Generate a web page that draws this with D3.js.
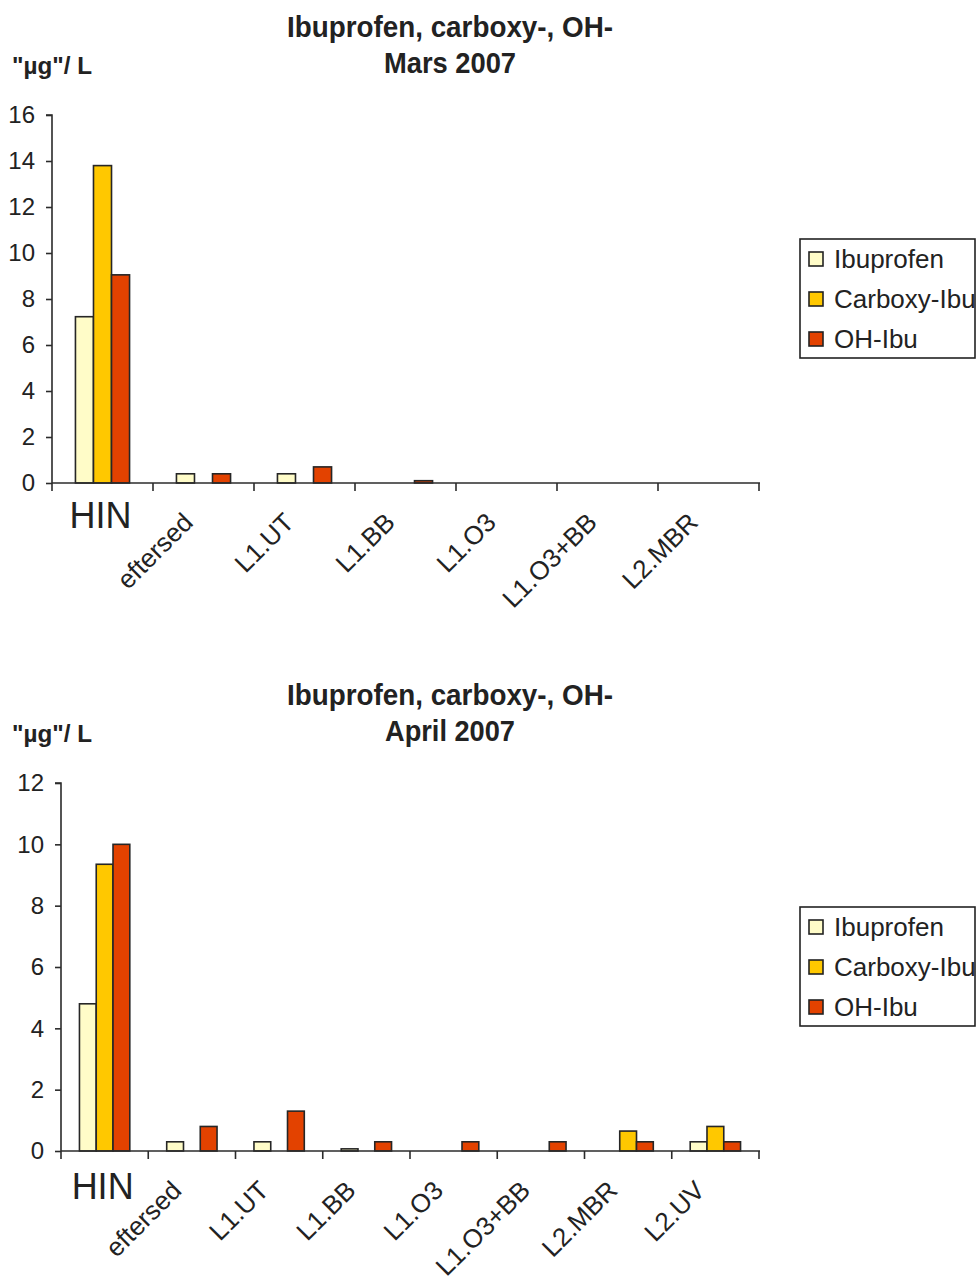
<!DOCTYPE html>
<html>
<head>
<meta charset="utf-8">
<script src="https://cdn.jsdelivr.net/npm/d3@7"></script>
<style>
  html, body { margin: 0; padding: 0; background: #fff; }
  svg { display: block; }
  text { font-family: "Liberation Sans", Arial, sans-serif; fill: #222; }
</style>
</head>
<body>
<svg id="chart" width="978" height="1276"></svg>
<script>
// Series shown in both panels
const seriesNames = ["Ibuprofen", "Carboxy-Ibu", "OH-Ibu"];
const seriesColors = ["#FFFCC8", "#FFC800", "#E34200"];

// March 2007 sampling points and concentrations (µg/L)
const categoriesMars = ["HIN", "eftersed", "L1.UT", "L1.BB", "L1.O3", "L1.O3+BB", "L2.MBR"];
const ibuprofenMars  = [7.23, 0.4, 0.4, 0, 0, 0, 0];
const carboxyMars    = [13.8, 0, 0, 0, 0, 0, 0];
const ohIbuMars      = [9.05, 0.4, 0.7, 0.1, 0, 0, 0];
const yTicksMars     = [0, 2, 4, 6, 8, 10, 12, 14, 16];

// April 2007 sampling points and concentrations (µg/L)
const categoriesApril = ["HIN", "eftersed", "L1.UT", "L1.BB", "L1.O3", "L1.O3+BB", "L2.MBR", "L2.UV"];
const ibuprofenApril  = [4.8, 0.3, 0.3, 0.07, 0, 0, 0, 0.3];
const carboxyApril    = [9.35, 0, 0, 0, 0, 0, 0.65, 0.8];
const ohIbuApril      = [10.0, 0.8, 1.3, 0.3, 0.3, 0.3, 0.3, 0.3];
const yTicksApril     = [0, 2, 4, 6, 8, 10, 12];

const titleLine1 = "Ibuprofen, carboxy-, OH-";
const unitLabel = "\"µg\"/ L";

const svg = d3.select("#chart");

function drawPanel(cfg) {
  const g = svg.append("g");
  const { left, right, top, bottom } = cfg;

  // Titles
  g.append("text")
    .attr("x", 450).attr("y", cfg.titleY)
    .attr("text-anchor", "middle")
    .attr("font-size", 29).attr("font-weight", "bold")
    .attr("textLength", 326).attr("lengthAdjust", "spacingAndGlyphs")
    .text(titleLine1);
  g.append("text")
    .attr("x", 450).attr("y", cfg.titleY + 36)
    .attr("text-anchor", "middle")
    .attr("font-size", 29).attr("font-weight", "bold")
    .attr("textLength", cfg.subtitleWidth).attr("lengthAdjust", "spacingAndGlyphs")
    .text(cfg.subtitle);
  g.append("text")
    .attr("x", 12).attr("y", cfg.titleY + 37)
    .attr("font-size", 23).attr("font-weight", "bold")
    .attr("textLength", 80).attr("lengthAdjust", "spacingAndGlyphs")
    .text(unitLabel);

  // Scales
  const x = d3.scaleBand().domain(cfg.categories).range([left, right]).padding(0);
  const xs = d3.scaleBand().domain(seriesNames).range([0, x.bandwidth()])
    .paddingInner(0).paddingOuter(cfg.outerPad);
  const y = d3.scaleLinear().domain([0, d3.max(cfg.yTicks)]).range([bottom, top]);
  const color = d3.scaleOrdinal().domain(seriesNames).range(seriesColors);

  const rows = cfg.categories.map((c, i) => ({
    cat: c,
    vals: seriesNames.map((s, k) => ({ s, v: cfg.series[k][i] }))
  }));

  // Bars
  const groups = g.selectAll("g.cat").data(rows).join("g")
    .attr("class", "cat")
    .attr("transform", d => `translate(${x(d.cat)},0)`);
  groups.selectAll("rect").data(d => d.vals.filter(e => e.v > 0)).join("rect")
    .attr("x", d => xs(d.s))
    .attr("y", d => y(d.v))
    .attr("width", xs.bandwidth())
    .attr("height", d => y(0) - y(d.v))
    .attr("fill", d => color(d.s))
    .attr("stroke", "#262626")
    .attr("stroke-width", 1.6);

  // Y axis
  const yAxis = d3.axisLeft(y).tickValues(cfg.yTicks).tickSize(6).tickPadding(11);
  const ya = g.append("g").attr("transform", `translate(${left},0)`).call(yAxis);
  ya.select(".domain").attr("stroke", "#2b2b2b").attr("stroke-width", 1.6)
    .attr("d", `M-6,${top}H0V${bottom}`);
  ya.selectAll(".tick line").attr("stroke", "#2b2b2b").attr("stroke-width", 1.6);
  ya.selectAll(".tick text").attr("font-size", 24).attr("fill", "#222")
    .attr("font-family", "Liberation Sans, Arial, sans-serif");

  // X axis: line with ticks at category boundaries
  g.append("line")
    .attr("x1", left).attr("x2", right + 1)
    .attr("y1", bottom).attr("y2", bottom)
    .attr("stroke", "#2b2b2b").attr("stroke-width", 1.6);
  const bounds = cfg.categories.map(c => x(c)).concat([x(cfg.categories[cfg.categories.length - 1]) + x.bandwidth()]);
  g.selectAll("line.xtick").data(bounds).join("line")
    .attr("class", "xtick")
    .attr("x1", d => d).attr("x2", d => d)
    .attr("y1", bottom).attr("y2", bottom + 8)
    .attr("stroke", "#2b2b2b").attr("stroke-width", 1.6);

  // Category labels
  cfg.categories.forEach((c, i) => {
    const cx = x(c) + x.bandwidth() / 2;
    if (i === 0) {
      g.append("text")
        .attr("x", cx - 2).attr("y", bottom + cfg.hinOffset)
        .attr("text-anchor", "middle")
        .attr("font-size", 36)
        .text(c);
    } else {
      g.append("text")
        .attr("transform", `translate(${cx - 9},${bottom + 41}) rotate(-45)`)
        .attr("text-anchor", "end")
        .attr("font-size", 26)
        .text(c);
    }
  });

  // Legend
  const lg = g.append("g").attr("transform", `translate(800,${cfg.legendTop})`);
  const clipId = "legclip" + cfg.legendTop;
  lg.append("clipPath").attr("id", clipId)
    .append("rect").attr("x", 0).attr("y", 0).attr("width", 175).attr("height", 119);
  lg.append("rect")
    .attr("x", 0).attr("y", 0).attr("width", 175).attr("height", 119)
    .attr("fill", "#fff").attr("stroke", "#222").attr("stroke-width", 1.6);
  const items = lg.append("g").attr("clip-path", `url(#${clipId})`)
    .selectAll("g").data(seriesNames).join("g")
    .attr("transform", (d, i) => `translate(0,${20 + i * 40})`);
  items.append("rect")
    .attr("x", 9).attr("y", -7).attr("width", 14).attr("height", 14)
    .attr("fill", d => color(d)).attr("stroke", "#222").attr("stroke-width", 1.6);
  items.append("text")
    .attr("x", 34).attr("y", 9)
    .attr("font-size", 26)
    .text(d => d);
}

drawPanel({
  categories: categoriesMars,
  series: [ibuprofenMars, carboxyMars, ohIbuMars],
  yTicks: yTicksMars,
  subtitle: "Mars 2007", subtitleWidth: 132,
  left: 52, right: 759, top: 115, bottom: 483,
  outerPad: 1.3, titleY: 37, legendTop: 239, hinOffset: 45
});

drawPanel({
  categories: categoriesApril,
  series: [ibuprofenApril, carboxyApril, ohIbuApril],
  yTicks: yTicksApril,
  subtitle: "April 2007", subtitleWidth: 130,
  left: 61, right: 759, top: 783, bottom: 1151,
  outerPad: 1.1, titleY: 705, legendTop: 907, hinOffset: 48
});
</script>
</body>
</html>
